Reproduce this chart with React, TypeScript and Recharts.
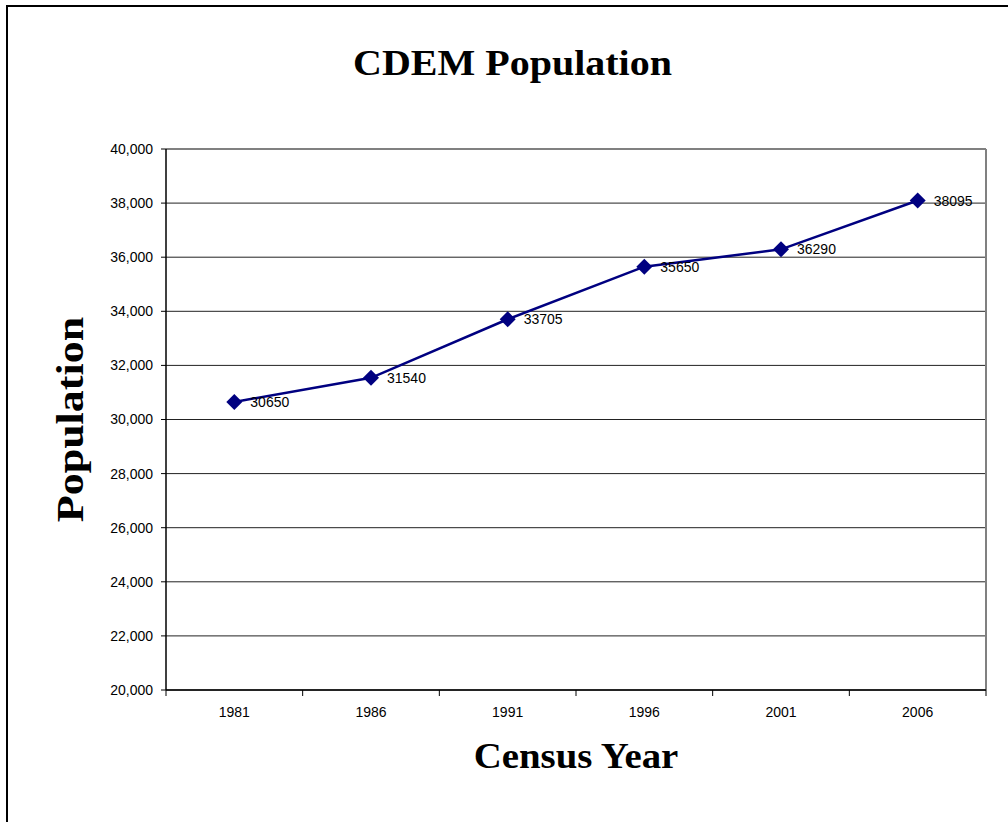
import { LineChart, Line, XAxis, YAxis, CartesianGrid, LabelList, Label, ReferenceLine } from 'recharts';

const years = ['1981', '1986', '1991', '1996', '2001', '2006'];
const population = [30650, 31540, 33705, 35650, 36290, 38095];
const yTicks = [20000, 22000, 24000, 26000, 28000, 30000, 32000, 34000, 36000, 38000, 40000];

const data = years.map((year, i) => ({ year, population: population[i] }));

const NAVY = '#000080';
const serif = '"Liberation Serif", "Times New Roman", serif';
const sans = '"Liberation Sans", Arial, sans-serif';
const X_TICK_GAP = 17;

function Diamond({ cx, cy }: any) {
  if (cx == null || cy == null) return null;
  const r = 8;
  return (
    <path
      d={`M${cx},${cy - r}L${cx + r},${cy}L${cx},${cy + r}L${cx - r},${cy}Z`}
      fill={NAVY}
    />
  );
}

// year label centred in its band, with tick marks on the band edges
function YearTick({ x, y, payload, index, visibleTicksCount }: any) {
  const half = payload.offset ?? 0;
  const axisY = y - X_TICK_GAP;
  const last = index === visibleTicksCount - 1;
  return (
    <g>
      <line x1={x - half} x2={x - half} y1={axisY} y2={axisY + 6} stroke="#000" />
      {last && <line x1={x + half} x2={x + half} y1={axisY} y2={axisY + 6} stroke="#000" />}
      <text x={x} y={y} dy="0.71em" textAnchor="middle" fill="#000" fontSize={14} fontFamily={sans}>
        {payload.value}
      </text>
    </g>
  );
}

function YTitle({ viewBox }: any) {
  const x = viewBox.x - 3;
  const y = viewBox.y + viewBox.height / 2;
  return (
    <text
      transform={`translate(${x},${y}) rotate(-90) scale(1.19,1)`}
      textAnchor="middle"
      fontFamily={serif}
      fontWeight="bold"
      fontSize={37}
      fill="#000"
    >
      Population
    </text>
  );
}

function XTitle({ viewBox }: any) {
  const x = viewBox.x + viewBox.width / 2;
  const y = viewBox.y + 78;
  return (
    <text
      transform={`translate(${x},${y}) scale(1.11,1)`}
      textAnchor="middle"
      fontFamily={serif}
      fontWeight="bold"
      fontSize={35}
      fill="#000"
    >
      Census Year
    </text>
  );
}

const tickStyle = { fill: '#000', fontSize: 14, fontFamily: sans };

export default function App() {
  return (
    <div
      style={{
        position: 'absolute',
        left: 0,
        top: 0,
        width: 1008,
        height: 822,
        background: '#fff',
        overflow: 'hidden',
      }}
    >
      <div
        style={{
          position: 'absolute',
          left: 6,
          top: 5,
          width: 1100,
          height: 900,
          borderLeft: '2px solid #000',
          borderTop: '2px solid #000',
        }}
      />
      <div
        style={{
          position: 'absolute',
          left: 0,
          top: 46,
          width: 1025,
          textAlign: 'center',
          fontFamily: serif,
          fontWeight: 'bold',
          fontSize: 35,
          lineHeight: '35px',
          transform: 'scaleX(1.143)',
          transformOrigin: '512.5px 0',
        }}
      >
        CDEM Population
      </div>
      <LineChart
        width={1008}
        height={822}
        data={data}
        margin={{ top: 149, right: 22, bottom: 102, left: 86 }}
        style={{ position: 'absolute', left: 0, top: 0 }}
      >
        <CartesianGrid vertical={false} stroke="#222" />
        {/* right edge of the plot frame */}
        <CartesianGrid
          horizontal={false}
          stroke="#808080"
          strokeWidth={2}
          verticalCoordinatesGenerator={({ offset }: any) => [offset.left + offset.width]}
        />
        <XAxis
          dataKey="year"
          scale="band"
          tickLine={false}
          tickSize={0}
          tickMargin={X_TICK_GAP}
          tick={<YearTick />}
          axisLine={{ stroke: '#000', strokeWidth: 1.5 }}
          height={30}
        >
          <Label content={<XTitle />} />
        </XAxis>
        <YAxis
          domain={[20000, 40000]}
          ticks={yTicks}
          tickFormatter={(v: number) => v.toLocaleString('en-US')}
          tick={tickStyle}
          tickSize={5}
          tickMargin={8}
          tickLine={{ stroke: '#000' }}
          axisLine={{ stroke: '#000', strokeWidth: 1.5 }}
          width={80}
        >
          <Label content={<YTitle />} />
        </YAxis>
        <ReferenceLine y={40000} stroke="#808080" strokeWidth={2} />
        <Line
          type="linear"
          dataKey="population"
          stroke={NAVY}
          strokeWidth={2.5}
          dot={(props: any) => <Diamond key={props.index} {...props} />}
          activeDot={false}
          isAnimationActive={false}
        >
          <LabelList
            dataKey="population"
            position="right"
            offset={16}
            fill="#000"
            fontSize={14}
            fontFamily={sans}
          />
        </Line>
      </LineChart>
    </div>
  );
}
